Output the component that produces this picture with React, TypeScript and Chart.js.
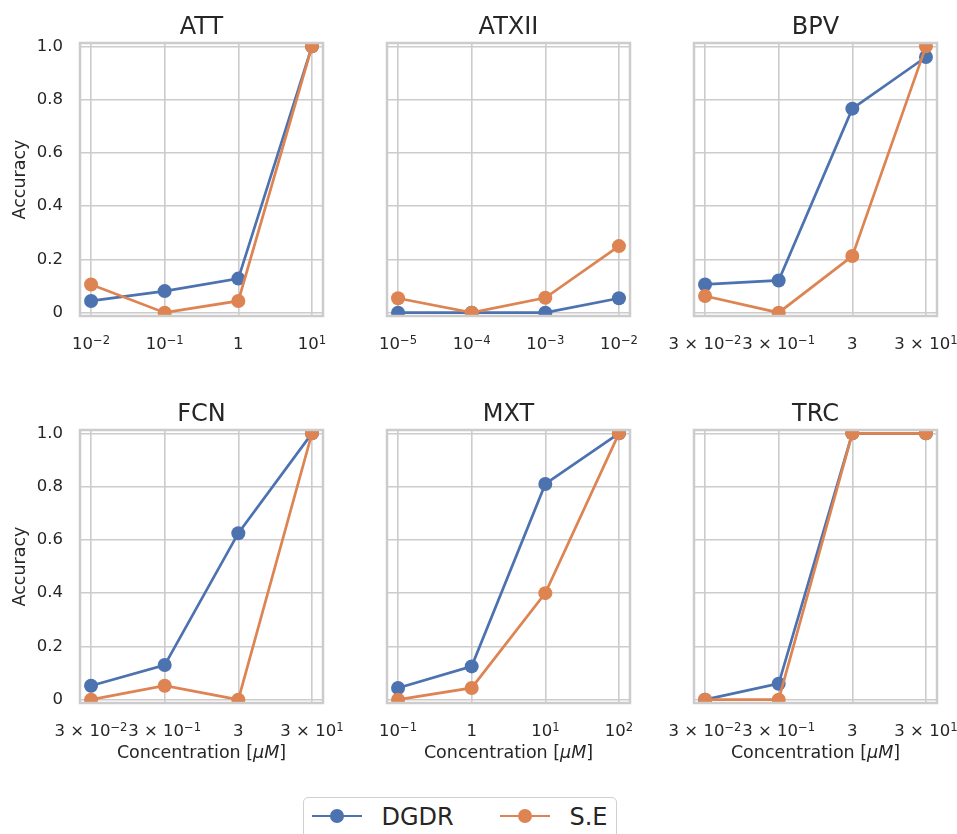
import React, { useEffect, useRef } from 'react';
import { Chart, registerables } from 'chart.js';

Chart.register(...registerables);
Chart.defaults.font.family = "'DejaVu Sans'";

// ---------- data ----------
const seriesNames = ['DGDR', 'S.E'];
const seriesColors = ['#4C72B0', '#DD8452'];

const attConc = [0.01, 0.1, 1, 10];
const attDGDR = [0.044, 0.081, 0.128, 1.0];
const attSE = [0.106, 0.0, 0.044, 1.0];
const attTicks = ['10⁻²', '10⁻¹', '1', '10¹'];

const atxiiConc = [1e-5, 1e-4, 1e-3, 1e-2];
const atxiiDGDR = [0.0, 0.0, 0.0, 0.054];
const atxiiSE = [0.054, 0.0, 0.056, 0.25];
const atxiiTicks = ['10⁻⁵', '10⁻⁴', '10⁻³', '10⁻²'];

const bpvConc = [0.03, 0.3, 3, 30];
const bpvDGDR = [0.106, 0.121, 0.766, 0.96];
const bpvSE = [0.0625, 0.0, 0.2125, 1.0];
const bpvTicks = ['3 × 10⁻²', '3 × 10⁻¹', '3', '3 × 10¹'];

const fcnConc = [0.03, 0.3, 3, 30];
const fcnDGDR = [0.0525, 0.13, 0.625, 1.0];
const fcnSE = [0.0, 0.0525, 0.0, 1.0];
const fcnTicks = ['3 × 10⁻²', '3 × 10⁻¹', '3', '3 × 10¹'];

const mxtConc = [0.1, 1, 10, 100];
const mxtDGDR = [0.044, 0.125, 0.81, 1.0];
const mxtSE = [0.0, 0.044, 0.4, 1.0];
const mxtTicks = ['10⁻¹', '1', '10¹', '10²'];

const trcConc = [0.03, 0.3, 3, 30];
const trcDGDR = [0.0, 0.06, 1.0, 1.0];
const trcSE = [0.0, 0.0, 1.0, 1.0];
const trcTicks = ['3 × 10⁻²', '3 × 10⁻¹', '3', '3 × 10¹'];

const yTickValues = [0, 0.2, 0.4, 0.6, 0.8, 1.0];
const yTickLabels = ['0', '0.2', '0.4', '0.6', '0.8', '1.0'];
const yAxisLabel = 'Accuracy';
const xAxisLabelPlain = 'Concentration [';
const xAxisLabelItalic = 'μM';
const xAxisLabelEnd = ']';

// ---------- layout / style ----------
const FRAME_W = 243;
const FRAME_H = 273;
const COL_LEFT = [80, 387, 694];
const ROW_TOP = [43, 430];
const TEXT = '#262626';
const GRID = '#cccccc';
const TICK_SIZE = 16.5;
const SUP_SIZE = 11.6;
const LABEL_SIZE = 17.5;
const TITLE_SIZE = 24;

const SUP_MAP: Record<string, string> = {
  '⁻': '−', '⁰': '0', '¹': '1', '²': '2', '³': '3', '⁴': '4',
  '⁵': '5', '⁶': '6', '⁷': '7', '⁸': '8', '⁹': '9',
};

function splitSup(label: string) {
  const parts: { text: string; sup: boolean }[] = [];
  for (const ch of label) {
    const sup = ch in SUP_MAP;
    const t = sup ? SUP_MAP[ch] : ch;
    const last = parts[parts.length - 1];
    if (last && last.sup === sup) last.text += t;
    else parts.push({ text: t, sup });
  }
  return parts;
}

type PanelProps = {
  title: string;
  conc: number[];
  dgdr: number[];
  se: number[];
  ticks: string[];
  col: number;
  row: number;
};

const panels: PanelProps[] = [
  { title: 'ATT', conc: attConc, dgdr: attDGDR, se: attSE, ticks: attTicks, col: 0, row: 0 },
  { title: 'ATXII', conc: atxiiConc, dgdr: atxiiDGDR, se: atxiiSE, ticks: atxiiTicks, col: 1, row: 0 },
  { title: 'BPV', conc: bpvConc, dgdr: bpvDGDR, se: bpvSE, ticks: bpvTicks, col: 2, row: 0 },
  { title: 'FCN', conc: fcnConc, dgdr: fcnDGDR, se: fcnSE, ticks: fcnTicks, col: 0, row: 1 },
  { title: 'MXT', conc: mxtConc, dgdr: mxtDGDR, se: mxtSE, ticks: mxtTicks, col: 1, row: 1 },
  { title: 'TRC', conc: trcConc, dgdr: trcDGDR, se: trcSE, ticks: trcTicks, col: 2, row: 1 },
];

function Panel(p: PanelProps) {
  const ref = useRef<HTMLCanvasElement>(null);
  const L = 80;
  const T = 43;
  const R = 45;
  const showX = p.row === 1;
  const showY = p.col === 0;
  const B = showX ? 66 : 42;
  const W = L + FRAME_W + R;
  const H = T + FRAME_H + B;

  useEffect(() => {
    if (!ref.current) return;
    const logMin = Math.log10(p.conc[0]);
    const logMax = Math.log10(p.conc[p.conc.length - 1]);
    const pad = (logMax - logMin) * 0.05;

    const decorPlugin = {
      id: 'panelDecor',
      afterDatasetsDraw(chart: any) {
        const { ctx, chartArea: a } = chart;
        const xs = chart.scales.x;
        ctx.save();
        // frame
        ctx.strokeStyle = GRID;
        ctx.lineWidth = 2.5;
        ctx.strokeRect(a.left, a.top, a.right - a.left, a.bottom - a.top);
        // title
        ctx.fillStyle = TEXT;
        ctx.font = `${TITLE_SIZE}px 'DejaVu Sans'`;
        ctx.textAlign = 'center';
        ctx.textBaseline = 'alphabetic';
        ctx.fillText(p.title, (a.left + a.right) / 2, a.top - 8.7);
        // x tick labels with mathtext-like superscripts
        ctx.textAlign = 'left';
        const baseY = a.bottom + 32.7;
        p.conc.forEach((v, i) => {
          const parts = splitSup(p.ticks[i]);
          const widths = parts.map((pt) => {
            ctx.font = `${pt.sup ? SUP_SIZE : TICK_SIZE}px 'DejaVu Sans'`;
            return ctx.measureText(pt.text).width;
          });
          const total = widths.reduce((s, w) => s + w, 0);
          let x = xs.getPixelForValue(v) - total / 2;
          parts.forEach((pt, k) => {
            ctx.font = `${pt.sup ? SUP_SIZE : TICK_SIZE}px 'DejaVu Sans'`;
            ctx.fillText(pt.text, x, pt.sup ? baseY - 4.6 : baseY);
            x += widths[k];
          });
        });
        // x axis label
        if (showX) {
          const f1 = `${LABEL_SIZE}px 'DejaVu Sans'`;
          const f2 = `italic ${LABEL_SIZE}px 'DejaVu Sans'`;
          ctx.font = f1;
          const w1 = ctx.measureText(xAxisLabelPlain).width;
          const w3 = ctx.measureText(xAxisLabelEnd).width;
          ctx.font = f2;
          const w2 = ctx.measureText(xAxisLabelItalic).width;
          const total = w1 + w2 + w3;
          let x = (a.left + a.right) / 2 - total / 2;
          const y = a.bottom + 55;
          ctx.font = f1;
          ctx.fillText(xAxisLabelPlain, x, y);
          x += w1;
          ctx.font = f2;
          ctx.fillText(xAxisLabelItalic, x, y);
          x += w2;
          ctx.font = f1;
          ctx.fillText(xAxisLabelEnd, x, y);
        }
        ctx.restore();
      },
    };

    const mk = (i: number, values: number[]) => ({
      label: seriesNames[i],
      data: p.conc.map((x, k) => ({ x, y: values[k] })),
      borderColor: seriesColors[i],
      backgroundColor: seriesColors[i],
      pointBackgroundColor: seriesColors[i],
      pointBorderColor: seriesColors[i],
      pointBorderWidth: 0,
      pointRadius: 7,
      borderWidth: 2.7,
      tension: 0,
      clip: 0,
      order: i === 0 ? 1 : 0,
    });

    const chart = new Chart(ref.current, {
      type: 'line',
      data: { datasets: [mk(0, p.dgdr), mk(1, p.se)] as any },
      options: {
        responsive: false,
        animation: false,
        devicePixelRatio: 1,
        layout: { padding: { top: T, right: R, left: 0, bottom: 0 } },
        plugins: {
          legend: { display: false },
          tooltip: { enabled: false },
          title: { display: false },
        },
        scales: {
          x: {
            type: 'logarithmic',
            bounds: 'data',
            min: Math.pow(10, logMin - pad),
            max: Math.pow(10, logMax + pad),
            afterBuildTicks: (s: any) => {
              s.ticks = p.conc.map((v) => ({ value: v }));
            },
            afterFit: (s: any) => {
              s.height = B;
            },
            grid: { color: GRID, lineWidth: 1.6, drawTicks: false },
            border: { display: false },
            ticks: {
              display: false,
              autoSkip: false,
              maxRotation: 0,
              minRotation: 0,
              callback: (_v: any, i: number) => p.ticks[i],
            },
          },
          y: {
            type: 'linear',
            bounds: 'data',
            min: -0.0125,
            max: 1.0125,
            afterBuildTicks: (s: any) => {
              s.ticks = yTickValues.map((v) => ({ value: v }));
            },
            afterFit: (s: any) => {
              s.width = L;
            },
            grid: { color: GRID, lineWidth: 1.6, drawTicks: false },
            border: { display: false },
            ticks: {
              display: showY,
              padding: 17,
              color: TEXT,
              font: { size: TICK_SIZE },
              callback: (_v: any, i: number) => yTickLabels[i],
            },
            title: {
              display: showY,
              text: yAxisLabel,
              color: TEXT,
              font: { size: LABEL_SIZE },
              padding: { top: 9.5, bottom: 0 },
            },
          },
        },
      } as any,
      plugins: [decorPlugin],
    });
    return () => chart.destroy();
  }, []);

  return (
    <canvas
      ref={ref}
      width={W}
      height={H}
      style={{
        position: 'absolute',
        left: COL_LEFT[p.col] - L,
        top: ROW_TOP[p.row] - T,
        width: W,
        height: H,
      }}
    />
  );
}

function LegendItem({ color, label, x }: { color: string; label: string; x: number }) {
  return (
    <>
      <div style={{ position: 'absolute', left: x, top: 16.5, width: 50, height: 2.7, background: color }} />
      <div
        style={{
          position: 'absolute',
          left: x + 18,
          top: 10.8,
          width: 14,
          height: 14,
          borderRadius: 7,
          background: color,
        }}
      />
      <div
        style={{
          position: 'absolute',
          left: x + 70,
          top: 0,
          height: 38,
          lineHeight: '38px',
          fontSize: 24,
          color: TEXT,
          whiteSpace: 'nowrap',
        }}
      >
        {label}
      </div>
    </>
  );
}

export default function App() {
  return (
    <div
      style={{
        position: 'absolute',
        left: 0,
        top: 0,
        width: 957,
        height: 834,
        overflow: 'hidden',
        background: '#ffffff',
        fontFamily: "'DejaVu Sans'",
      }}
    >
      {panels.map((p) => (
        <Panel key={p.title} {...p} />
      ))}
      <div
        style={{
          position: 'absolute',
          left: 303,
          top: 797,
          width: 314,
          height: 60,
          boxSizing: 'border-box',
          border: '1.5px solid #d0d0d0',
          borderRadius: 5,
          background: '#ffffff',
        }}
      >
        <LegendItem color={seriesColors[0]} label={seriesNames[0]} x={7.5} />
        <LegendItem color={seriesColors[1]} label={seriesNames[1]} x={195.5} />
      </div>
    </div>
  );
}
